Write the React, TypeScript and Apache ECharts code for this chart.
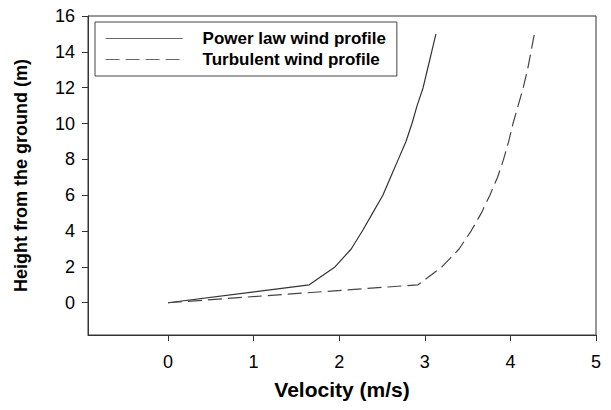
import React, { useEffect, useRef } from "react";
import * as echarts from "echarts";

const heights = [0, 1, 2, 3, 4, 5, 6, 7, 8, 9, 10, 11, 12, 13, 14, 15];
const powerLawVelocity = [0, 1.65, 1.95, 2.14, 2.27, 2.39, 2.51, 2.6, 2.69, 2.78, 2.85, 2.91, 2.98, 3.03, 3.08, 3.13];
const turbulentVelocity = [0, 2.92, 3.2, 3.4, 3.54, 3.66, 3.76, 3.85, 3.92, 3.98, 4.03, 4.09, 4.15, 4.2, 4.24, 4.28];
const xTicks = [0, 1, 2, 3, 4, 5];
const yTicks = [0, 2, 4, 6, 8, 10, 12, 14, 16];
const seriesNames = ["Power law wind profile", "Turbulent wind profile"];

const FONT = "'Liberation Sans', Arial, sans-serif";

export default function App() {
  const ref = useRef<HTMLDivElement>(null);
  useEffect(() => {
    if (!ref.current) return;
    const chart = echarts.init(ref.current, undefined, { renderer: "svg" });
    const axisColor = "#333";
    chart.setOption({
      animation: false,
      grid: {
        left: 88,
        right: 15,
        top: 16,
        bottom: 75,
        show: true,
        borderColor: axisColor,
        borderWidth: 1,
      },
      legend: {
        orient: "vertical",
        left: 95,
        top: 22,
        padding: [8, 11, 8, 10],
        itemGap: 4,
        itemWidth: 77,
        itemHeight: 17,
        borderColor: "#444",
        borderWidth: 1,
        data: seriesNames,
        itemStyle: { opacity: 0 },
        lineStyle: { color: "#666", width: 1.2 },
        textStyle: {
          fontFamily: FONT,
          fontWeight: "bold",
          fontSize: 17,
          color: "#000",
          padding: [0, 0, 0, 15],
        },
      },
      xAxis: {
        type: "value",
        min: -0.935,
        max: 5,
        name: "Velocity (m/s)",
        nameLocation: "middle",
        nameGap: 44,
        nameTextStyle: { fontFamily: FONT, fontWeight: "bold", fontSize: 21, color: "#000" },
        axisLine: { onZero: false, lineStyle: { color: axisColor, width: 1 } },
        axisTick: { show: true, length: 6, customValues: xTicks, lineStyle: { color: axisColor } },
        axisLabel: { customValues: xTicks, fontFamily: FONT, fontSize: 18, color: "#000", margin: 18 },
        splitLine: { show: false },
      },
      yAxis: {
        type: "value",
        min: -1.8,
        max: 16,
        name: "Height from the ground (m)",
        nameLocation: "middle",
        nameGap: 58,
        nameTextStyle: { fontFamily: FONT, fontWeight: "bold", fontSize: 18, color: "#000" },
        axisLine: { show: true, onZero: false, lineStyle: { color: axisColor, width: 1 } },
        axisTick: { show: true, length: 6, customValues: yTicks, lineStyle: { color: axisColor } },
        axisLabel: { customValues: yTicks, fontFamily: FONT, fontSize: 18, color: "#000", margin: 13 },
        splitLine: { show: false },
      },
      series: [
        {
          name: seriesNames[0],
          type: "line",
          symbol: "none",
          data: heights.map((h, i) => [powerLawVelocity[i], h]),
          lineStyle: { color: "#333", width: 1.2, type: "solid" },
          itemStyle: { color: "#555" },
        },
        {
          name: seriesNames[1],
          type: "line",
          symbol: "none",
          data: heights.map((h, i) => [turbulentVelocity[i], h]),
          lineStyle: { color: "#444", width: 1.2, type: [14, 6] },
          itemStyle: { color: "#555" },
        },
      ],
    });
    return () => chart.dispose();
  }, []);
  return <div ref={ref} style={{ width: 611, height: 410, margin: -8 }} />;
}
